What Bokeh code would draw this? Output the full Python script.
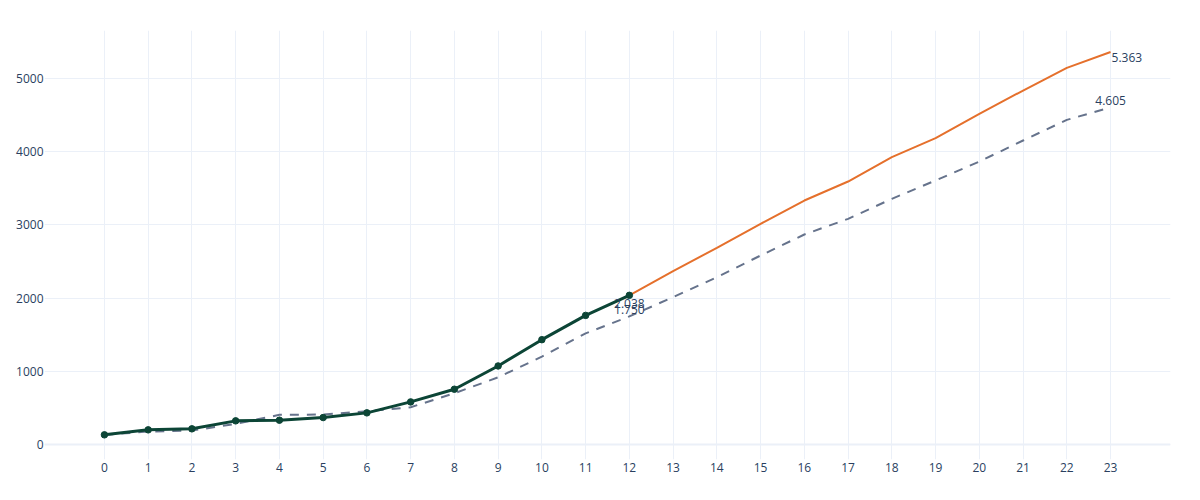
from bokeh.plotting import figure
from bokeh.models import Range1d, FixedTicker, Span, ColumnDataSource
from bokeh.core.properties import value
from bokeh.embed import file_html
from bokeh.resources import INLINE

# ---- data ----
x_actual = list(range(0, 13))
actual = [132, 200, 214, 323, 332, 368, 432, 582, 755, 1073, 1432, 1764, 2038]

x_plan = list(range(0, 24))
plan = [132, 177, 190, 282, 405, 409, 455, 509, 700, 918, 1200, 1518, 1750,
        2013, 2286, 2582, 2869, 3083, 3356, 3607, 3866, 4153, 4435, 4605]

x_forecast = list(range(12, 24))
forecast = [2038, 2368, 2687, 3015, 3333, 3593, 3925, 4185, 4517, 4836, 5146, 5363]

x_ticks = list(range(0, 24))
y_ticks = [0, 1000, 2000, 3000, 4000, 5000]

def de_fmt(v):
    return f"{v:,}".replace(",", ".")

FONT = "Open Sans"
TXT = "#2a3f5f"
GRID = "#EBF0F8"

p = figure(width=1192, height=492, output_backend="svg", toolbar_location=None,
           x_range=Range1d(-1.37, 24.37), y_range=Range1d(-205, 5656))
p.min_border_left = 44
p.min_border_right = 22
p.min_border_top = 30
p.min_border_bottom = 33
p.outline_line_color = None
p.background_fill_color = "white"
p.border_fill_color = "white"

for ax in (p.xaxis, p.yaxis):
    ax.axis_line_color = None
    ax.major_tick_line_color = None
    ax.minor_tick_line_color = None
    ax.major_tick_out = 0
    ax.major_tick_in = 0
    ax.major_label_text_font = FONT
    ax.major_label_text_font_size = "12px"
    ax.major_label_text_color = TXT
p.xaxis.ticker = FixedTicker(ticks=x_ticks)
p.yaxis.ticker = FixedTicker(ticks=y_ticks)
p.xaxis.major_label_standoff = 3
p.yaxis.major_label_standoff = 1

p.xgrid.ticker = FixedTicker(ticks=x_ticks)
p.ygrid.ticker = FixedTicker(ticks=y_ticks)
p.xgrid.grid_line_color = GRID
p.ygrid.grid_line_color = GRID
p.xgrid.grid_line_width = 1
p.ygrid.grid_line_width = 1

p.add_layout(Span(location=0, dimension="width", line_color=GRID, line_width=2))

# ---- series ----
p.line(x_plan, plan, line_color="#66738c", line_width=2, line_dash="9 8")
p.line(x_forecast, forecast, line_color="#e5702c", line_width=2)
p.line(x_actual, actual, line_color="#0c4536", line_width=3)
p.scatter(x_actual, actual, size=6.5, fill_color="#0c4536", line_color="#0c4536")

# ---- end labels ----
lab_actual = ColumnDataSource(dict(x=[x_actual[-1]], y=[actual[-1]], t=[de_fmt(actual[-1])]))
lab_plan12 = ColumnDataSource(dict(x=[x_plan[12]], y=[plan[12]], t=[de_fmt(plan[12])]))
lab_fc = ColumnDataSource(dict(x=[x_forecast[-1]], y=[forecast[-1]], t=[de_fmt(forecast[-1])]))
lab_plan = ColumnDataSource(dict(x=[x_plan[-1]], y=[plan[-1]], t=[de_fmt(plan[-1])]))

common = dict(text="t", text_font=value(FONT), text_font_size="12px", text_color=TXT,
              text_baseline="middle")
p.text(x="x", y="y", source=lab_actual, text_align="center", y_offset=8.5, **common)
p.text(x="x", y="y", source=lab_plan12, text_align="center", y_offset=-6.5, **common)
p.text(x="x", y="y", source=lab_fc, text_align="left", x_offset=1, y_offset=5.5, **common)
p.text(x="x", y="y", source=lab_plan, text_align="center", y_offset=-7, **common)

open("out.html", "w").write(file_html(p, INLINE))
